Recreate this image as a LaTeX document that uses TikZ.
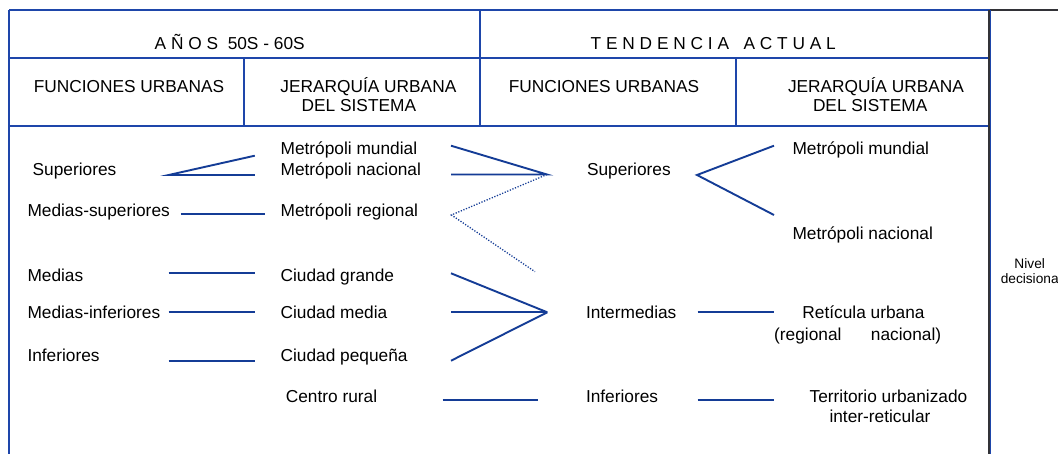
\documentclass[tikz,border=0pt]{standalone}
\usepackage{fontspec}
\setmainfont{Liberation Sans}
\definecolor{frameblue}{RGB}{30,70,170}
\definecolor{linkblue}{RGB}{20,60,150}
\definecolor{edgegray}{RGB}{50,50,55}
\newcommand{\fsmain}{\fontsize{17.3}{20}\selectfont}
\newcommand{\fssmall}{\fontsize{13.7}{15}\selectfont}
\tikzset{
  lbl/.style={anchor=base west, inner sep=0pt, outer sep=0pt, font=\fsmain, text=black},
  clbl/.style={anchor=base, inner sep=0pt, outer sep=0pt, font=\fsmain, text=black},
  frameline/.style={draw=frameblue, line width=1.8pt},
  link/.style={draw=linkblue, line width=1.9pt},
  dotlink/.style={draw=linkblue, line width=1.3pt, dash pattern=on 1.2pt off 1.6pt}
}
\begin{document}
\begin{tikzpicture}[x=1pt,y=-1pt]
\useasboundingbox (0,0) rectangle (1058,454);
\fill[white] (0,0) rectangle (1058,454);
% ---- frame ----
\coordinate (tl) at (9,10);
\coordinate (tr) at (990,10);
\coordinate (te) at (1058,10);
\coordinate (bl) at (9,454);
\coordinate (br) at (990,454);
\coordinate (r1l) at (9,58.3);
\coordinate (r1r) at (990,58.3);
\coordinate (r2l) at (9,126);
\coordinate (r2r) at (990,126);
\coordinate (mt) at (480,10);
\coordinate (mb) at (480,126);
\coordinate (c1t) at (244,58.3);
\coordinate (c1b) at (244,126);
\coordinate (c2t) at (736,58.3);
\coordinate (c2b) at (736,126);
\draw[edgegray, line width=1.8pt] (tr) -- (te);
\draw[frameline] (tl) -- (tr);
\draw[frameline] (tl) -- (bl);
\draw[frameline] (r1l) -- (r1r);
\draw[frameline] (r2l) -- (r2r);
\draw[frameline] (mt) -- (mb);
\draw[frameline] (c1t) -- (c1b);
\draw[frameline] (c2t) -- (c2b);
\draw[edgegray, line width=2.4pt] ([xshift=-0.6pt]tr) -- ([xshift=-0.6pt]br);
\draw[frameblue, line width=1pt] ([xshift=0.6pt]tr) -- ([xshift=0.6pt]br);
% ---- header texts ----
\node[lbl] (h1) at (154.7,49.5) {A Ñ O S\ \ 50S - 60S};
\node[lbl] (h2) at (590.7,49.5) {T E N D E N C I A\ \ \ A C T U A L};
\node[lbl] (f1) at (33.8,92.9) {FUNCIONES URBANAS};
\node[lbl] (j1a) at (280.4,92.9) {JERARQUÍA URBANA};
\node[lbl] (j1b) at (301.7,111.9) {DEL SISTEMA};
\node[lbl] (f2) at (508.8,92.9) {FUNCIONES URBANAS};
\node[lbl] (j2a) at (788,92.9) {JERARQUÍA URBANA};
\node[lbl] (j2b) at (813,111.9) {DEL SISTEMA};
% ---- body texts ----
\node[lbl] (supL) at (32.7,175.5) {Superiores};
\node[lbl] (msup) at (27.5,216.9) {Medias-superiores};
\node[lbl] (med) at (27.5,281.2) {Medias};
\node[lbl] (minf) at (27.5,318.5) {Medias-inferiores};
\node[lbl] (inf) at (27.5,361.2) {Inferiores};
\node[lbl] (mmun) at (280.6,154.5) {Metrópoli mundial};
\node[lbl] (mnac) at (280.6,175.5) {Metrópoli nacional};
\node[lbl] (mreg) at (280.6,216.9) {Metrópoli regional};
\node[lbl] (cgra) at (280.6,281.2) {Ciudad grande};
\node[lbl] (cmed) at (280.6,318.5) {Ciudad media};
\node[lbl] (cpeq) at (280.6,361.2) {Ciudad pequeña};
\node[lbl] (crur) at (285.8,402.9) {Centro rural};
\node[lbl] (supR) at (587,175.5) {Superiores};
\node[lbl] (interm) at (586,318.9) {Intermedias};
\node[lbl] (infR) at (586,402.9) {Inferiores};
\node[lbl] (mmunR) at (792.5,154.5) {Metrópoli mundial};
\node[lbl] (mnacR) at (792.5,239.5) {Metrópoli nacional};
\node[clbl] (ret1) at (863.5,318.9) {Retícula urbana};
\node[clbl] (ret2) at (857.7,340.2) {(regional\hspace{29.5pt}nacional)};
\node[clbl] (ter1) at (888.5,402.9) {Territorio urbanizado};
\node[clbl] (ter2) at (880,422.9) {inter-reticular};
\node[anchor=base, inner sep=0pt, font=\fssmall, align=center] (nivel) at (1029.7,283.3) {Nivel\\[0pt]decisiona};
% ---- connector end points ----
\coordinate (sA) at (168.7,175);
\coordinate (sB) at (254.8,155.7);
\coordinate (sC) at (254.8,175);
\coordinate (msA) at (180.8,214.3);
\coordinate (msB) at (264.5,214.3);
\coordinate (mA) at (168.7,273.3);
\coordinate (mB) at (254.8,273.3);
\coordinate (miA) at (168.7,312.3);
\coordinate (miB) at (254.8,312.3);
\coordinate (iA) at (168.7,360.7);
\coordinate (iB) at (254.8,360.7);
\coordinate (f1a) at (451,145.7);
\coordinate (f1b) at (451,174.5);
\coordinate (f1x) at (547,174.5);
\coordinate (dA) at (451.4,215);
\coordinate (dB) at (535,271.7);
\coordinate (f2a) at (451,273.3);
\coordinate (f2b) at (451,312.3);
\coordinate (f2c) at (451,360.7);
\coordinate (f2x) at (547.3,312.3);
\coordinate (crA) at (442.5,400);
\coordinate (crB) at (538,400);
\coordinate (rfx) at (697,175);
\coordinate (rfa) at (774,145.7);
\coordinate (rfb) at (774,215);
\coordinate (imA) at (697.5,312.3);
\coordinate (imB) at (773.6,312.3);
\coordinate (ifA) at (697.5,400);
\coordinate (ifB) at (773.6,400);
% ---- connectors ----
\draw[link] (sB) -- (sA) -- (sC);
\draw[link] (msA) -- (msB);
\draw[link] (mA) -- (mB);
\draw[link] (miA) -- (miB);
\draw[link] (iA) -- (iB);
\draw[link] (f1a) -- (f1x) -- (f1b);
\draw[dotlink] (f1x) -- (dA) -- (dB);
\draw[link] (f2a) -- (f2x);
\draw[link] (f2b) -- (f2x);
\draw[link] (f2c) -- (f2x);
\draw[link] (crA) -- (crB);
\draw[link] (rfa) -- (rfx) -- (rfb);
\draw[link] (imA) -- (imB);
\draw[link] (ifA) -- (ifB);
\end{tikzpicture}
\end{document}
